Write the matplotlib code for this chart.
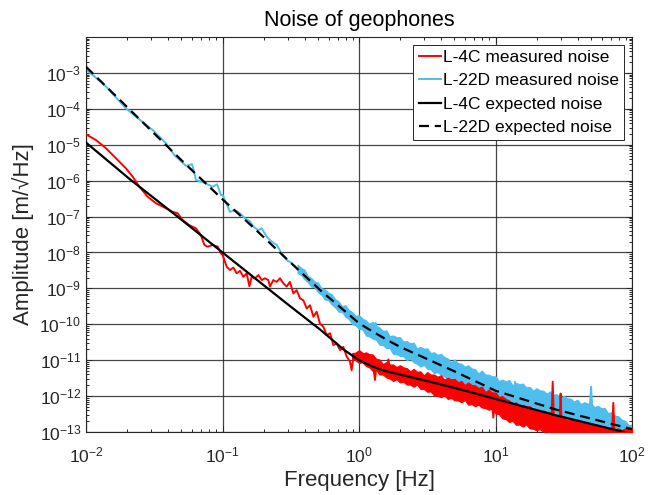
import numpy as np
import matplotlib
matplotlib.use("Agg")
import matplotlib.pyplot as plt
from matplotlib.ticker import LogLocator, NullFormatter

plt.rcParams['font.family'] = ['Liberation Sans', 'DejaVu Sans']
plt.rcParams['mathtext.fontset'] = 'custom'
plt.rcParams['mathtext.rm'] = 'Liberation Sans'
plt.rcParams['mathtext.it'] = 'Liberation Sans:italic'

# ---------------- data (log10 frequency [Hz], log10 amplitude [m/sqrt(Hz)]) ----------------
# L-4C expected noise
l4c_exp_lf = [-2.0, -1.682, -1.34, -1.0, -0.775, -0.53, -0.284, -0.2, -0.114, -0.05, 0.0, 0.05,
              0.09, 0.15, 0.212, 0.301, 0.477, 0.699, 1.0, 1.447, 1.886, 2.0]
l4c_exp_la = [-4.94, -5.95, -6.97, -8.0, -8.68, -9.42, -10.15, -10.42, -10.70, -10.87, -11.0, -11.09,
              -11.16, -11.25, -11.32, -11.40, -11.56, -11.77, -12.08, -12.54, -12.95, -13.06]

# L-22D expected noise
l22d_exp_lf = [-2.0, -1.699, -1.301, -1.0, -0.775, -0.53, -0.284, 0.0, 0.09, 0.212, 0.301, 0.477,
               0.699, 1.0, 1.447, 1.886, 2.0]
l22d_exp_la = [-2.83, -3.95, -5.43, -6.52, -7.30, -8.18, -9.05, -9.97, -10.18, -10.45, -10.63, -10.93,
               -11.31, -11.85, -12.38, -12.81, -12.92]

# L-4C measured noise (trace)
l4c_meas_lf = [-2.0, -1.927, -1.853, -1.780, -1.707, -1.658, -1.609, -1.548, -1.487, -1.414, -1.365,
               -1.328, -1.292, -1.243, -1.194, -1.158, -1.133, -1.109, -1.072, -1.035, -1.011,
               -0.999, -0.969, -0.945, -0.921, -0.896, -0.872, -0.847, -0.823, -0.803, -0.786,
               -0.762, -0.737, -0.713, -0.689, -0.664, -0.652, -0.628, -0.603, -0.579, -0.554,
               -0.530, -0.506, -0.481, -0.457, -0.432, -0.408, -0.383, -0.359, -0.334, -0.310,
               -0.286, -0.261, -0.237, -0.212, -0.188, -0.164, -0.139, -0.115, -0.090, -0.066,
               -0.054, -0.041, -0.017, 0.007, 0.044, 0.10, 0.117, 0.13, 0.205, 0.215, 0.225,
               0.5, 0.975, 0.984, 0.993, 1.2, 1.41, 1.419, 1.428, 1.47, 1.477, 1.484, 1.7,
               1.855, 1.863, 1.871, 2.0]
l4c_meas_la = [-4.71, -4.87, -5.10, -5.38, -5.66, -5.89, -6.17, -6.45, -6.63, -6.77, -6.87,
               -6.91, -7.10, -7.24, -7.33, -7.52, -7.79, -7.84, -7.79, -7.84, -8.03,
               -8.07, -8.40, -8.49, -8.42, -8.58, -8.51, -8.68, -8.58, -8.94, -8.68,
               -8.72, -8.63, -8.77, -8.72, -8.77, -8.95, -8.77, -8.82, -8.72, -8.86,
               -8.95, -8.82, -9.14, -9.05, -9.28, -9.33, -9.56, -9.47, -9.79, -9.65,
               -9.98, -10.07, -10.30, -10.25, -10.58, -10.53, -10.72, -10.63, -10.90, -11.04,
               -11.28, -10.90, -10.81, -10.76, -10.86, -11.05, -11.55, -11.10, -11.20, -10.98, -11.20,
               -11.60, -12.20, -12.60, -12.20, -12.55, -12.70, -11.60, -12.70, -12.70, -11.93, -12.70,
               -12.95, -12.95, -12.19, -12.95, -13.0]

# L-22D measured noise (trace)
l22d_meas_lf = [-2.0, -1.853, -1.707, -1.634, -1.512, -1.414, -1.353, -1.267, -1.223, -1.194,
                -1.133, -1.072, -1.040, -1.011, -0.999, -0.945, -0.908, -0.872, -0.835, -0.798,
                -0.774, -0.737, -0.713, -0.676, -0.640, -0.603, -0.566, -0.530, -0.493, -0.457,
                -0.408, -0.359, -0.310, -0.261, -0.212, -0.164, -0.115, -0.066, -0.017, 0.044,
                0.115, 0.122, 0.13, 0.5, 1.0, 1.135, 1.143, 1.151, 1.5, 1.69, 1.70, 1.71, 2.0]
l22d_meas_la = [-2.90, -3.38, -3.99, -4.22, -4.59, -4.96, -5.29, -5.59, -5.54, -5.98,
                -6.06, -6.17, -6.10, -6.40, -6.40, -6.87, -6.82, -6.91, -7.05, -7.14,
                -7.28, -7.38, -7.33, -7.56, -7.70, -7.79, -8.03, -8.21, -8.30, -8.44,
                -8.58, -8.77, -8.95, -9.05, -9.33, -9.47, -9.60, -9.74, -9.88, -10.02,
                -10.20, -9.96, -10.20, -10.95, -11.80, -12.0, -11.60, -12.0, -12.30, -12.40, -11.74, -12.40, -12.90]

# envelope of the dense noise (band) for L-22D measured, every 0.025 decade
l22d_band_lf = [-0.450, -0.425, -0.400, -0.375, -0.350, -0.325, -0.300, -0.275, -0.250, -0.225,
                -0.200, -0.175, -0.150, -0.125, -0.100, -0.075, -0.050, -0.025, 0.000, 0.025,
                0.050, 0.075, 0.100, 0.125, 0.150, 0.175, 0.200, 0.225, 0.250, 0.275,
                0.300, 0.325, 0.350, 0.375, 0.400, 0.425, 0.450, 0.475, 0.500, 0.525,
                0.550, 0.575, 0.600, 0.625, 0.650, 0.675, 0.700, 0.725, 0.750, 0.775,
                0.800, 0.825, 0.850, 0.875, 0.900, 0.925, 0.950, 0.975, 1.000, 1.025,
                1.050, 1.075, 1.100, 1.125, 1.150, 1.175, 1.200, 1.225, 1.250, 1.275,
                1.300, 1.325, 1.350, 1.375, 1.400, 1.425, 1.450, 1.475, 1.500, 1.525,
                1.550, 1.575, 1.600, 1.625, 1.650, 1.675, 1.700, 1.725, 1.750, 1.775,
                1.800, 1.825, 1.850, 1.875, 1.900, 1.925, 1.950, 1.975, 2.000]
l22d_band_top = [-8.34, -8.43, -8.48, -8.65, -8.71, -8.81, -8.84, -9.00, -9.03, -9.12,
                 -9.16, -9.30, -9.36, -9.49, -9.47, -9.60, -9.66, -9.76, -9.75, -9.84,
                 -9.89, -9.99, -9.93, -10.04, -10.09, -10.18, -10.17, -10.33, -10.31, -10.36,
                 -10.36, -10.48, -10.47, -10.53, -10.51, -10.67, -10.63, -10.68, -10.67, -10.80,
                 -10.78, -10.85, -10.82, -10.91, -10.95, -11.06, -10.98, -11.08, -11.10, -11.18,
                 -11.14, -11.23, -11.25, -11.37, -11.29, -11.40, -11.40, -11.45, -11.45, -11.58,
                 -11.54, -11.59, -11.55, -11.70, -11.63, -11.67, -11.65, -11.76, -11.74, -11.85,
                 -11.78, -11.84, -11.85, -11.93, -11.87, -11.96, -11.95, -12.07, -11.99, -12.06,
                 -12.07, -12.15, -12.10, -12.22, -12.17, -12.21, -12.20, -12.31, -12.27, -12.34,
                 -12.33, -12.48, -12.44, -12.55, -12.56, -12.66, -12.69, -12.81, -12.80]
l22d_band_bot = [-8.58, -8.62, -8.74, -8.83, -8.95, -8.97, -9.11, -9.18, -9.31, -9.33,
                 -9.45, -9.53, -9.65, -9.65, -9.79, -9.85, -9.99, -10.03, -10.13, -10.14,
                 -10.31, -10.34, -10.40, -10.43, -10.57, -10.58, -10.66, -10.66, -10.83, -10.83,
                 -10.88, -10.89, -11.00, -10.96, -11.06, -11.10, -11.18, -11.13, -11.24, -11.26,
                 -11.36, -11.33, -11.41, -11.45, -11.54, -11.48, -11.59, -11.63, -11.70, -11.68,
                 -11.76, -11.75, -11.88, -11.88, -11.93, -11.88, -12.03, -12.03, -12.10, -12.09,
                 -12.19, -12.20, -12.24, -12.20, -12.32, -12.29, -12.36, -12.38, -12.45, -12.40,
                 -12.49, -12.49, -12.57, -12.50, -12.60, -12.62, -12.68, -12.64, -12.71, -12.70,
                 -12.79, -12.78, -12.82, -12.77, -12.88, -12.86, -12.91, -12.88, -12.97, -12.97,
                 -13.01, -12.98, -13.05, -13.03, -13.07, -13.04, -13.09, -13.06, -13.07]

# envelope of the dense noise (band) for L-4C measured, every 0.025 decade
l4c_band_lf = [-0.050, -0.025, 0.000, 0.025, 0.050, 0.075, 0.100, 0.125, 0.150, 0.175,
               0.200, 0.225, 0.250, 0.275, 0.300, 0.325, 0.350, 0.375, 0.400, 0.425,
               0.450, 0.475, 0.500, 0.525, 0.550, 0.575, 0.600, 0.625, 0.650, 0.675,
               0.700, 0.725, 0.750, 0.775, 0.800, 0.825, 0.850, 0.875, 0.900, 0.925,
               0.950, 0.975, 1.000, 1.025, 1.050, 1.075, 1.100, 1.125, 1.150, 1.175,
               1.200, 1.225, 1.250, 1.275, 1.300, 1.325, 1.350, 1.375, 1.400, 1.425,
               1.450, 1.475, 1.500, 1.525, 1.550, 1.575, 1.600, 1.625, 1.650, 1.675,
               1.700, 1.725, 1.750, 1.775, 1.800, 1.825, 1.850, 1.875, 1.900, 1.925,
               1.950, 1.975, 2.000]
l4c_band_top = [-10.80, -10.79, -10.72, -10.82, -10.78, -10.83, -10.84, -10.96, -10.98, -11.11,
                -11.05, -11.12, -11.12, -11.19, -11.14, -11.20, -11.22, -11.31, -11.24, -11.32,
                -11.31, -11.42, -11.33, -11.40, -11.40, -11.46, -11.42, -11.54, -11.49, -11.53,
                -11.52, -11.61, -11.58, -11.69, -11.62, -11.69, -11.70, -11.77, -11.74, -11.89,
                -11.82, -11.90, -11.90, -12.02, -12.00, -12.08, -12.12, -12.21, -12.17, -12.30,
                -12.24, -12.29, -12.28, -12.37, -12.36, -12.46, -12.40, -12.45, -12.46, -12.55,
                -12.52, -12.58, -12.55, -12.68, -12.62, -12.67, -12.65, -12.76, -12.72, -12.79,
                -12.75, -12.80, -12.80, -12.88, -12.84, -12.90, -12.87, -12.92, -12.90, -12.95,
                -12.90, -12.91, -12.88]
l4c_band_bot = [-10.95, -11.00, -11.08, -11.06, -11.16, -11.20, -11.30, -11.27, -11.40, -11.40,
                -11.48, -11.51, -11.58, -11.53, -11.62, -11.60, -11.68, -11.68, -11.74, -11.68,
                -11.80, -11.80, -11.88, -11.87, -11.98, -11.99, -12.03, -11.98, -12.08, -12.05,
                -12.12, -12.12, -12.17, -12.11, -12.24, -12.22, -12.28, -12.24, -12.32, -12.33,
                -12.38, -12.35, -12.48, -12.50, -12.62, -12.64, -12.72, -12.69, -12.80, -12.79,
                -12.85, -12.79, -12.90, -12.91, -12.95, -12.92, -13.00, -12.98, -13.05, -13.00,
                -13.10, -13.10, -13.15, -13.12, -13.20, -13.20, -13.20, -13.20, -13.20, -13.20,
                -13.20, -13.20, -13.20, -13.20, -13.20, -13.20, -13.20, -13.20, -13.20, -13.20,
                -13.20, -13.20, -13.20]

labels = ['L-4C measured noise', 'L-22D measured noise', 'L-4C expected noise', 'L-22D expected noise']
title = 'Noise of geophones'
xlabel = 'Frequency [Hz]'
ylabel = 'Amplitude [m/\u221aHz]'

# ---------------- drawing ----------------
def p(a):
    return 10.0 ** np.asarray(a, dtype=float)

RED = '#ff0000'
BLUE = '#4dbeee'
AX = '#262626'

fig = plt.figure(figsize=(6.48, 4.95), dpi=100)
ax = fig.add_axes([86/648, 1 - 432/495, (632 - 86)/648, (432 - 37)/495])
ax.set_xscale('log')
ax.set_yscale('log')

lw = 1.4
ax.fill_between(p(l22d_band_lf), p(l22d_band_bot), p(l22d_band_top), color=BLUE, lw=0.8,
                edgecolor=BLUE, zorder=2)
ax.fill_between(p(l4c_band_lf), p(l4c_band_bot), p(l4c_band_top), color=RED, lw=0.8,
                edgecolor=RED, zorder=3)
ax.plot(p(l4c_meas_lf), p(l4c_meas_la), color=RED, lw=lw, label=labels[0], zorder=3)
ax.plot(p(l22d_meas_lf), p(l22d_meas_la), color=BLUE, lw=lw, label=labels[1], zorder=2)
ax.plot(p(l4c_exp_lf), p(l4c_exp_la), color='black', lw=lw + 0.2, label=labels[2], zorder=4)
ax.plot(p(l22d_exp_lf), p(l22d_exp_la), color='black', lw=lw + 0.2, ls=(0, (4.5, 2.6)),
        label=labels[3], zorder=5)

ax.set_xlim(1e-2, 1e2)
ax.set_ylim(1e-13, 1e-2)
ax.set_xticks([1e-2, 1e-1, 1e0, 1e1, 1e2])
ax.set_yticks([10.0 ** k for k in range(-13, -2)])
ax.xaxis.set_minor_locator(LogLocator(base=10, subs=np.arange(2, 10), numticks=20))
ax.yaxis.set_minor_locator(LogLocator(base=10, subs=np.arange(2, 10), numticks=40))
ax.xaxis.set_minor_formatter(NullFormatter())
ax.yaxis.set_minor_formatter(NullFormatter())

ax.grid(True, which='major', color='#262626', alpha=0.85, lw=0.9)
ax.tick_params(which='both', direction='in', top=True, right=True, colors=AX,
               labelsize=12.5, width=0.7)
ax.tick_params(which='major', length=4)
ax.tick_params(which='minor', length=2.5)
ax.tick_params(axis='x', which='major', pad=10)
for s in ax.spines.values():
    s.set_color(AX)
    s.set_linewidth(0.8)

ax.set_title(title, fontsize=15.5, color='black', pad=8)
ax.set_xlabel(xlabel, fontsize=16, color=AX, labelpad=3)
ax.set_ylabel(ylabel, fontsize=16, color=AX, labelpad=4)

leg = ax.legend(loc='upper right', fontsize=12.5, handlelength=1.3, handletextpad=0.1,
                labelspacing=0.47, borderpad=0.3, borderaxespad=0.45, fancybox=False,
                framealpha=1, edgecolor=AX)
leg.get_frame().set_linewidth(0.7)
leg.set_zorder(10)

fig.savefig('out.png', dpi=100)
